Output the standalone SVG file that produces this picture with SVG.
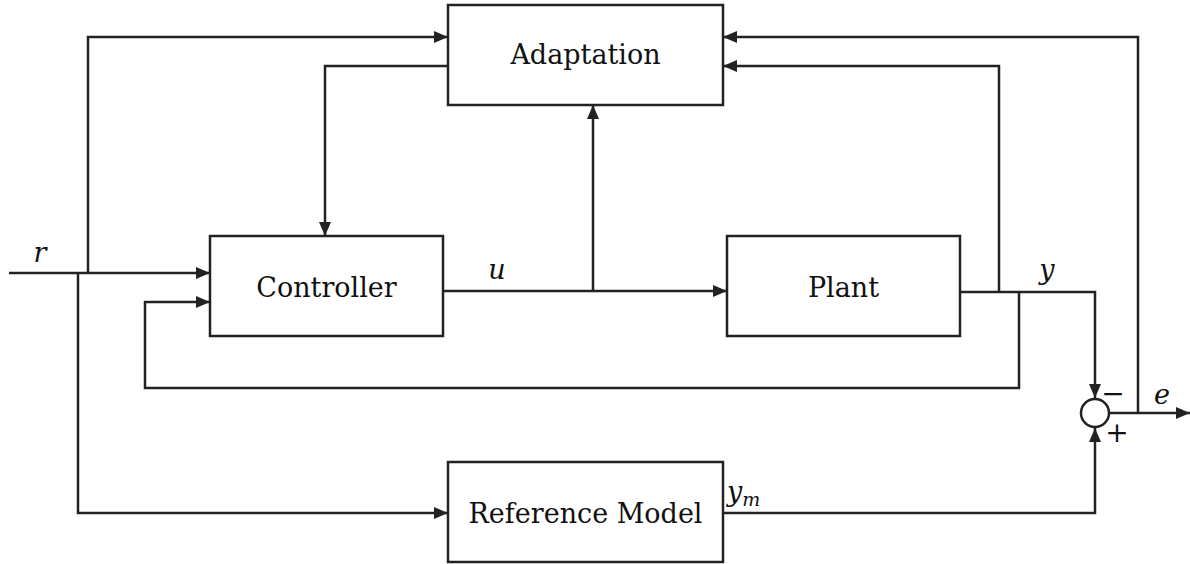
<svg xmlns="http://www.w3.org/2000/svg" width="1190" height="564" viewBox="0 0 1190 564">
<style>
.box{fill:#fff;stroke:#222;stroke-width:2.5}
.lbl{font-family:"DejaVu Serif",serif;font-size:27px;fill:#111;text-anchor:middle}
.var{font-family:"DejaVu Serif",serif;font-style:italic;font-size:27px;fill:#111;text-anchor:middle}
.vars{font-family:"DejaVu Serif",serif;font-style:italic;font-size:27px;fill:#111;text-anchor:start}
.sign{font-family:"DejaVu Serif",serif;font-size:28px;fill:#111;text-anchor:middle}
.wa{fill:none;stroke:#222;stroke-width:2.5;marker-end:url(#ah)}
</style>
<defs>
<marker id="ah" viewBox="0 0 14 12" refX="14" refY="6" markerWidth="14" markerHeight="12" markerUnits="userSpaceOnUse" orient="auto">
<path d="M0,0 L14,6 L0,12 Z" fill="#222"/>
</marker>
</defs>
<rect width="1190" height="564" fill="#fff"/>
<g id="connectors">
<path class="wa" d="M9,273 H210"/>
<path class="wa" d="M88,273 V37 H448"/>
<path class="wa" d="M78,273 V513 H448"/>
<path class="wa" d="M448,66 H325 V236"/>
<path class="wa" d="M443,291 H727"/>
<path class="wa" d="M593,291 V105"/>
<path class="wa" d="M960,292 H1095 V398"/>
<path class="wa" d="M999,292 V66 H723"/>
<path class="wa" d="M1019,292 V388 H145 V302 H210"/>
<path class="wa" d="M723,513 H1095 V428"/>
<path class="wa" d="M1110,413 H1190"/>
<path class="wa" d="M1138,413 V37 H723"/>
</g>
<g id="adaptation">
<rect class="box" x="448" y="5" width="275" height="100"/>
<text class="lbl" x="585.5" y="64">Adaptation</text>
</g>
<g id="controller">
<rect class="box" x="210" y="236" width="233" height="100"/>
<text class="lbl" x="326.5" y="297">Controller</text>
</g>
<g id="plant">
<rect class="box" x="727" y="236" width="233" height="100"/>
<text class="lbl" x="843.5" y="297">Plant</text>
</g>
<g id="reference-model">
<rect class="box" x="448" y="462" width="275" height="100"/>
<text class="lbl" x="585.5" y="523">Reference Model</text>
</g>
<g id="sum">
<circle cx="1095" cy="413" r="14" fill="#fff" stroke="#222" stroke-width="2.5"/>
<text class="sign" x="1113" y="403">−</text>
<text class="sign" x="1117" y="442">+</text>
</g>
<g id="labels">
<text class="var" x="40" y="262">r</text>
<text class="var" x="497" y="279">u</text>
<text class="var" x="1047" y="279">y</text>
<text class="vars" x="727" y="501">y<tspan font-size="19" dy="5">m</tspan></text>
<text class="var" x="1162" y="404">e</text>
</g>
</svg>
